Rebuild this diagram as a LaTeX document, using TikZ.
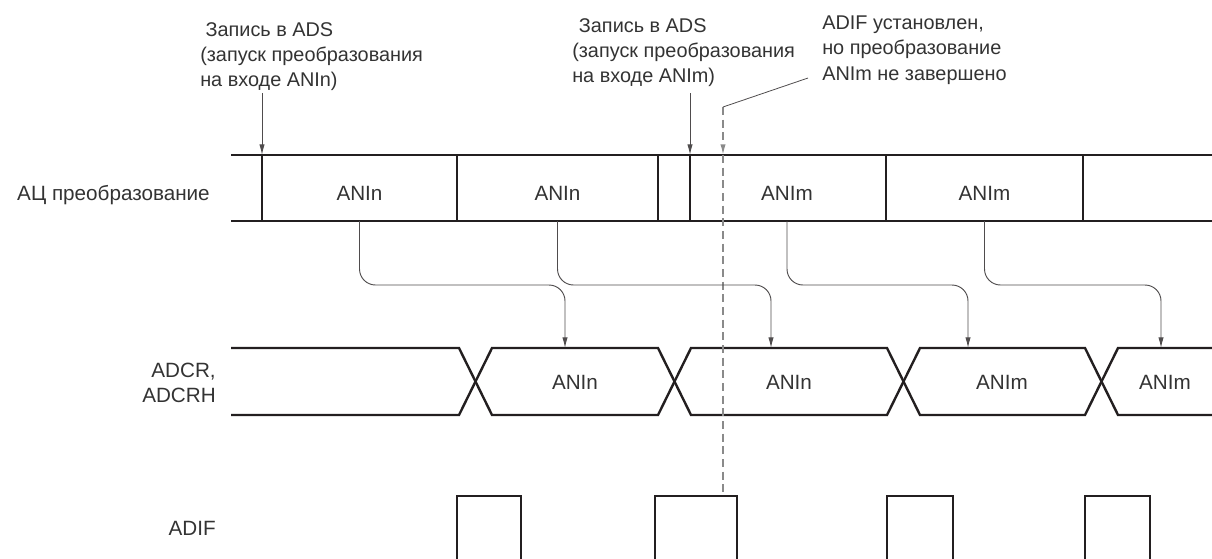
\documentclass[tikz,border=0pt]{standalone}
\usepackage{fontspec}
\setmainfont{Liberation Sans}
\usepackage{xcolor}
\usepackage{tikz}
\usetikzlibrary{arrows.meta}
\definecolor{adcInk}{HTML}{231F20}
\definecolor{adcText}{HTML}{333333}
\definecolor{adcDash}{HTML}{8A8A8A}

\begin{document}
\begin{tikzpicture}[x=0.75pt, y=-0.75pt,
        bus/.style={draw=adcInk, line width=1.8pt},
        div/.style={draw=adcInk, line width=0.8pt},
        lbl/.style={text=adcText, inner sep=0pt, font=\fontsize{15.5}{18.75}\selectfont},
        note/.style={lbl, align=left, anchor=north west, font=\fontsize{14.9}{19}\selectfont},
        rel/.style={-{Latex[length=8pt,width=4pt]}, draw=adcInk!80, line width=0.7pt, rounded corners=12pt},
        flagline/.style={draw=adcDash, line width=1.1pt, dash pattern=on 6pt off 3.5pt},
        leader/.style={draw=adcInk!80, line width=0.6pt}
    ]
        \useasboundingbox (0,0) rectangle (1212,558);

        \coordinate (convTop) at (0,155);
        \coordinate (convBot) at (0,221);
        \coordinate (hop) at (0,285);
        \coordinate (adifTop) at (0,496);

        \node[note] (wr1) at (200,22) {\hspace*{4pt}Запись в ADS\\(запуск преобразования\\на входе ANIn)};
        \node[note] (wr2) at (572,18) {\hspace*{5pt}Запись в ADS\\(запуск преобразования\\на входе ANIm)};
        \node[note] (done) at (822,15.5) {ADIF установлен,\\но преобразование\\ANIm не завершено};

        \draw[bus] (231,155) -- (1214,155) (231,221) -- (1214,221);
        \foreach \x in {262,457,658,690,886,1083}
            \draw[div] (\x,155) -- (\x,221);

        \node[lbl, anchor=base east] (convName) at (210,200) {АЦ преобразование};
        \node[lbl, anchor=base] (c1) at (359.5,200) {ANIn};
        \node[lbl, anchor=base] (c2) at (557.5,200) {ANIn};
        \node[lbl, anchor=base] (c3) at (787,200) {ANIm};
        \node[lbl, anchor=base] (c4) at (984.5,200) {ANIm};

        \draw[bus] (231,348) -- (459,348) -- (492,415) -- (658,415) -- (691,348) -- (887,348)
            -- (920,415) -- (1085,415) -- (1118,348) -- (1214,348);
        \draw[bus] (231,415) -- (459,415) -- (492,348) -- (658,348) -- (691,415) -- (887,415)
            -- (920,348) -- (1085,348) -- (1118,415) -- (1214,415);

        \node[lbl, align=right, anchor=east] (regName) at (216,382.5) {ADCR,\\ADCRH};
        \node[lbl, anchor=base] (r1) at (575,389) {ANIn};
        \node[lbl, anchor=base] (r2) at (789,389) {ANIn};
        \node[lbl, anchor=base] (r3) at (1002,389) {ANIm};
        \node[lbl, anchor=base] (r4) at (1165,389) {ANIm};

        \foreach \a/\b in {457/521,655/737,887/953,1085/1150}
            \draw[bus] (\a,560) -- (\a,496) -- (\b,496) -- (\b,560);
        \node[lbl, anchor=base east] (adifName) at (216,535) {ADIF};

        \coordinate (ads1) at (262,93);
        \coordinate (ads2) at (690,93);
        \coordinate (flag) at (723,107);
        \coordinate (lead) at (808,78);
        \coordinate (in1) at (565,348);
        \coordinate (in2) at (771,348);
        \coordinate (in3) at (968,348);
        \coordinate (in4) at (1161,348);

        \draw[rel] (ads1) -- (ads1 |- convTop);
        \draw[rel] (ads2) -- (ads2 |- convTop);
        \draw[flagline, -{Latex[length=8pt,width=4pt]}] (flag) -- (flag |- convTop);
        \draw[flagline] (flag |- convTop) -- (flag |- adifTop);
        \draw[leader] (flag) -- (lead);

        \draw[rel] (c1 |- convBot) -- (c1 |- hop) -| (in1);
        \draw[rel] (c2 |- convBot) -- (c2 |- hop) -| (in2);
        \draw[rel] (c3 |- convBot) -- (c3 |- hop) -| (in3);
        \draw[rel] (c4 |- convBot) -- (c4 |- hop) -| (in4);
    \end{tikzpicture}
\end{document}
